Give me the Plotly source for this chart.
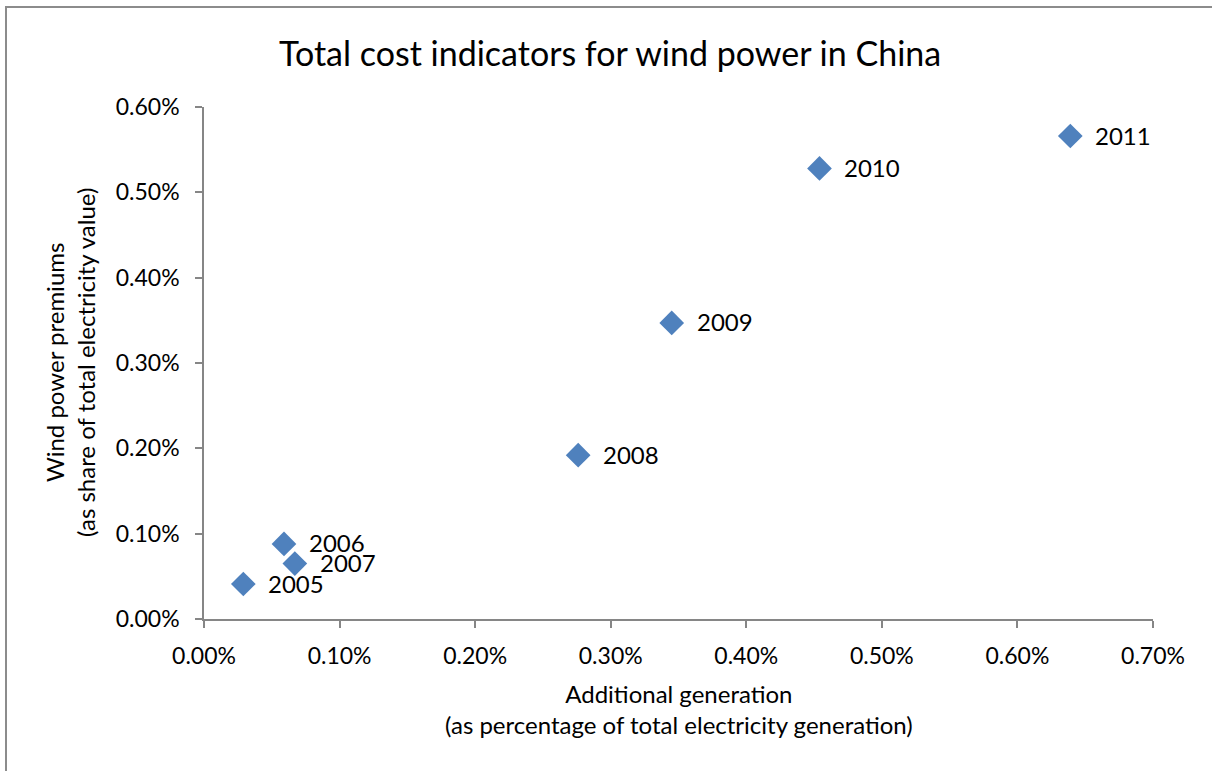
import plotly.graph_objects as go

# Wind power cost indicators, China 2005-2011 (values as fractions)
years = ["2005", "2006", "2007", "2008", "2009", "2010", "2011"]
additional_generation = [0.00029, 0.00059, 0.00067, 0.00276, 0.00345, 0.00454, 0.00639]
premium_share = [0.00041, 0.00088, 0.00065, 0.00192, 0.00347, 0.00528, 0.00566]

x_ticks = [0, 0.001, 0.002, 0.003, 0.004, 0.005, 0.006, 0.007]
y_ticks = [0, 0.001, 0.002, 0.003, 0.004, 0.005, 0.006]

W, H = 1212, 771
L, R, T, B = 204, 59, 107, 152
pw, ph = W - L - R, H - T - B

def px_to_paper_x(px):
    return (px - L) / pw

def py_to_paper_y(py):
    return (H - B - py) / ph

font_family = "Lato, 'Open Sans', sans-serif"

fig = go.Figure()
fig.add_trace(go.Scatter(
    x=additional_generation,
    y=premium_share,
    mode="markers",
    marker=dict(symbol="diamond", size=19, color="#4F81BD",
                line=dict(width=0)),
    hoverinfo="skip",
    showlegend=False,
))

annotations = []
for yr, xv, yv in zip(years, additional_generation, premium_share):
    annotations.append(dict(
        x=xv, y=yv, xref="x", yref="y", text=yr, showarrow=False,
        xanchor="left", yanchor="middle", xshift=23, yshift=1,
        font=dict(family=font_family, size=24, color="#000000"),
    ))

# Axis titles (two lines each)
annotations.append(dict(
    x=0.5, y=py_to_paper_y(709), xref="paper", yref="paper",
    text="Additional generation<br>(as percentage of total electricity generation)",
    showarrow=False, xanchor="center", yanchor="middle",
    font=dict(family=font_family, size=24, color="#000000"),
))
annotations.append(dict(
    x=px_to_paper_x(70), y=py_to_paper_y(363), xref="paper", yref="paper",
    text="Wind power premiums<br>(as share of total electricity value)",
    showarrow=False, xanchor="center", yanchor="middle", textangle=-90,
    font=dict(family=font_family, size=24, color="#000000"),
))
annotations.append(dict(
    x=px_to_paper_x(610), y=py_to_paper_y(52), xref="paper", yref="paper",
    text="Total cost indicators for wind power in China",
    showarrow=False, xanchor="center", yanchor="middle",
    font=dict(family=font_family, size=34, color="#000000"),
))

axis_common = dict(
    showgrid=False, zeroline=False, showline=True, linecolor="#868686",
    linewidth=1.5, ticks="outside", ticklen=7, tickcolor="#868686",
    tickwidth=1.5, tickformat=".2%",
    tickfont=dict(family=font_family, size=23, color="#000000"),
)

fig.update_layout(
    width=W, height=H,
    margin=dict(l=L, r=R, t=T, b=B),
    paper_bgcolor="white", plot_bgcolor="white",
    xaxis=dict(range=[0, 0.007], tickvals=x_ticks, ticklabelstandoff=9,
               **axis_common),
    yaxis=dict(range=[0, 0.006], tickvals=y_ticks, ticklabelstandoff=11,
               **axis_common),
    annotations=annotations,
    shapes=[dict(
        type="rect", xref="paper", yref="paper",
        x0=px_to_paper_x(6), x1=px_to_paper_x(1230),
        y0=py_to_paper_y(790), y1=py_to_paper_y(7),
        line=dict(color="#8C8C8C", width=2), fillcolor="rgba(0,0,0,0)",
        layer="below",
    )],
)

fig.write_html("out.html")
